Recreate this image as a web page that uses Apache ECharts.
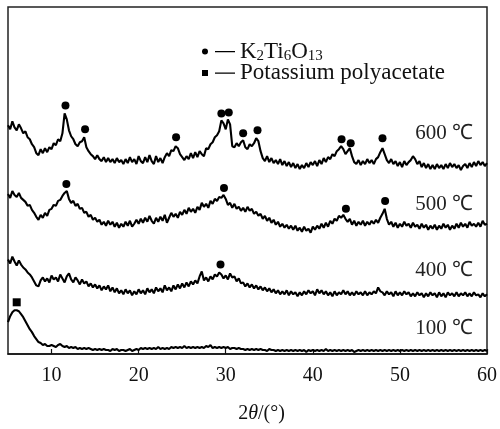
<!DOCTYPE html>
<html>
<head>
<meta charset="utf-8">
<script src="https://cdn.jsdelivr.net/npm/echarts@6/dist/echarts.min.js"></script>
<style>
html,body{margin:0;padding:0;background:#fff;}
#chart{width:500px;height:429px;}
</style>
</head>
<body>
<div id="chart"></div>
<script>
// 2θ positions (degrees), one row per degree
const twoTheta = [
  5,5.25,5.5,5.75, 6,6.25,6.5,6.75, 7,7.25,7.5,7.75, 8,8.25,8.5,8.75, 9,9.25,9.5,9.75,
  10,10.25,10.5,10.75, 11,11.25,11.5,11.75, 12,12.25,12.5,12.75, 13,13.25,13.5,13.75, 14,14.25,14.5,14.75,
  15,15.25,15.5,15.75, 16,16.25,16.5,16.75, 17,17.25,17.5,17.75, 18,18.25,18.5,18.75, 19,19.25,19.5,19.75,
  20,20.25,20.5,20.75, 21,21.25,21.5,21.75, 22,22.25,22.5,22.75, 23,23.25,23.5,23.75, 24,24.25,24.5,24.75,
  25,25.25,25.5,25.75, 26,26.25,26.5,26.75, 27,27.25,27.5,27.75, 28,28.25,28.5,28.75, 29,29.25,29.5,29.75,
  30,30.25,30.5,30.75, 31,31.25,31.5,31.75, 32,32.25,32.5,32.75, 33,33.25,33.5,33.75, 34,34.25,34.5,34.75,
  35,35.25,35.5,35.75, 36,36.25,36.5,36.75, 37,37.25,37.5,37.75, 38,38.25,38.5,38.75, 39,39.25,39.5,39.75,
  40,40.25,40.5,40.75, 41,41.25,41.5,41.75, 42,42.25,42.5,42.75, 43,43.25,43.5,43.75, 44,44.25,44.5,44.75,
  45,45.25,45.5,45.75, 46,46.25,46.5,46.75, 47,47.25,47.5,47.75, 48,48.25,48.5,48.75, 49,49.25,49.5,49.75,
  50,50.25,50.5,50.75, 51,51.25,51.5,51.75, 52,52.25,52.5,52.75, 53,53.25,53.5,53.75, 54,54.25,54.5,54.75,
  55,55.25,55.5,55.75, 56,56.25,56.5,56.75, 57,57.25,57.5,57.75, 58,58.25,58.5,58.75, 59,59.25,59.5,59.75,
  60
];
// Intensities (vertically offset, arbitrary units)
const i600 = [
  230,226,234,228, 225,231,227,222, 224,218,216,211, 208,202,200,206, 202,207,203,208,
  206,212,210,216, 214,222,242,236, 225,219,216,211, 209,213,214,218, 208,204,201,199,
  196,200,196,194, 198,193,197,193, 196,192,197,193, 195,191,196,192, 198,193,196,191,
  199,194,192,198, 193,200,194,191, 199,193,197,192, 198,202,199,205, 204,209,207,201,
  198,195,199,196, 202,197,203,198, 204,201,199,207, 206,211,213,218, 220,224,235,232,
  226,236,231,209, 208,212,209,213, 215,208,206,211, 209,212,217,214, 204,197,194,199,
  193,197,192,195, 191,196,190,194, 189,193,188,192, 187,191,186,190, 187,192,188,193,
  190,194,189,195, 191,197,193,198, 196,201,199,204, 206,209,206,201, 204,207,199,193,
  191,195,190,194, 191,196,192,195, 191,196,198,203, 207,201,195,192, 196,191,194,189,
  193,188,194,190, 193,195,199,196, 191,194,188,192, 187,191,186,190, 186,191,187,190,
  186,191,187,192, 188,191,187,190, 185,189,191,187, 192,188,193,189, 194,190,193,189,
  192
];
const i500 = [
  161,157,164,160, 158,162,157,155, 153,149,150,145, 142,138,135,140, 137,142,139,145,
  146,150,149,154, 155,159,162,164, 156,152,154,149, 151,146,147,142, 143,138,140,135,
  137,133,135,130, 133,129,134,130, 133,128,132,127, 131,128,133,129, 134,128,131,135,
  131,136,132,137, 133,139,134,131, 137,133,138,134, 140,132,137,142, 138,141,137,143,
  140,145,141,147, 143,146,142,148, 145,152,148,151, 147,154,151,156, 154,158,157,160,
  156,150,152,147, 151,146,148,144, 147,143,148,144, 146,141,143,139, 141,136,139,134,
  137,132,135,130, 133,128,131,127, 130,126,129,125, 129,124,127,123, 128,124,126,122,
  128,125,129,126, 131,127,132,128, 134,131,136,134, 139,137,140,136, 133,136,130,134,
  129,133,130,134, 129,133,130,134, 131,135,132,137, 141,146,136,130, 133,128,132,127,
  131,128,133,129, 131,127,132,128, 130,126,131,127, 130,125,129,126, 130,125,129,126,
  131,127,130,125, 129,126,131,127, 132,128,131,127, 133,129,131,128, 132,128,134,130,
  131
];
const i400 = [
  95,91,98,93, 89,94,90,87, 85,82,80,77, 73,69,68,74, 77,73,76,72,
  79,75,77,73, 80,76,72,78, 81,75,72,77, 74,70,75,71, 73,68,71,67,
  70,66,69,64, 68,65,69,63, 67,62,66,61, 64,60,65,61, 64,59,63,60,
  65,61,64,60, 66,62,65,61, 67,63,66,62, 69,64,67,63, 69,65,70,66,
  71,67,72,68, 73,70,74,71, 78,83,74,77, 73,78,75,80, 78,82,80,76,
  79,75,81,77, 78,73,76,71, 72,68,71,67, 70,66,69,65, 68,64,67,63,
  66,62,65,61, 64,60,63,60, 64,59,63,60, 62,58,62,59, 63,60,64,61,
  63,59,65,61, 64,60,63,59, 62,58,63,59, 62,60,64,60, 63,59,62,59,
  63,60,62,59, 63,59,62,60, 63,61,67,63, 62,59,63,60, 62,58,63,59,
  62,59,63,60, 62,58,61,58, 62,59,61,57, 61,58,62,59, 61,57,62,58,
  61,57,62,59, 61,58,62,58, 61,59,62,58, 61,58,62,59, 60,57,61,58,
  60
];
const i100 = [
  32,38,42,44, 44,43,40,37, 33,29,25,22, 18,15,12,11, 9,10,8,8,
  9,8,7,9, 10,8,7,8, 6,7,6,7, 5,6,5,6, 5,6,5,4,
  5,4,5,4, 5,4,4,3, 5,4,5,3, 4,4,3,4, 5,3,4,5,
  4,6,5,6, 5,6,5,6, 5,7,5,6, 5,6,5,7, 6,7,6,7,
  6,8,6,7, 6,7,6,7, 6,7,6,8, 7,9,6,7, 6,7,6,7,
  6,7,5,6, 6,5,6,5, 5,4,5,4, 5,4,5,4, 5,4,4,3,
  5,4,4,3, 4,3,4,3, 4,3,4,3, 4,3,4,3, 4,2,4,3,
  4,3,4,3, 4,3,5,3, 4,3,4,3, 4,3,4,3, 4,3,4,2,
  3,4,3,4, 3,4,3,4, 3,4,3,4, 3,4,3,4, 3,4,3,4,
  3,4,3,4, 3,4,3,4, 3,4,3,4, 3,4,3,4, 3,4,3,4,
  3,4,3,4, 3,4,3,4, 3,4,3,4, 3,4,3,4, 3,4,3,4,
  3
];
// Peak markers [2θ, intensity]
const k2ti6o13Peaks = [
  [11.6,250],[13.85,226],[24.3,218],[29.5,242],[30.35,243],[32.0,222],[33.65,225],[43.3,216],[44.35,212],[48.0,217],
  [11.7,171],[29.8,167],[43.8,146],[48.3,154],
  [29.4,90]
];
const polyacetatePeaks = [[6.0,52]];
const tempLabels = ['600 ℃','500 ℃','400 ℃','100 ℃'];
const xTicks = [10,20,30,40,50,60];
const seriesNames = ['K2Ti6O13','Potassium polyacetate'];

const FONT = '"Liberation Serif","Times New Roman",serif';
const pair = arr => twoTheta.map((t,i)=>[t,arr[i]]);
const traces = [i600,i500,i400,i100];
const labelY = [135,206,272,330];

const chart = echarts.init(document.getElementById('chart'), null, {renderer:'canvas'});
const lineSeries = traces.map((d,k)=>({
  type:'line', name:'trace'+k, data:pair(d), symbol:'none', silent:true,
  lineStyle:{color:'#000',width:2.1}, z:2
}));
chart.setOption({
  animation:false,
  backgroundColor:'#fff',
  grid:{left:8,right:13,top:7,bottom:73,show:true,borderColor:'#222',borderWidth:1.5},
  legend:{
    orient:'vertical', left:197, top:35, itemGap:-2,
    data:[
      {name:seriesNames[0], icon:'path://M0,3a3,3 0 1,0 6,0a3,3 0 1,0 -6,0zM13,2.4h20v1.3h-20z'},
      {name:seriesNames[1], icon:'path://M0,0h6v6h-6zM13,2.4h20v1.3h-20z'}
    ],
    itemWidth:33, itemHeight:6, selectedMode:false,
    formatter: n => n===seriesNames[0] ? '{m|K}{s|2}{m|Ti}{s|6}{m|O}{s|13}' : '{m|'+n+'}',
    textStyle:{
      fontFamily:FONT, fontSize:23, color:'#111',
      rich:{
        m:{fontFamily:FONT,fontSize:23,color:'#111',lineHeight:24},
        s:{fontFamily:FONT,fontSize:15,color:'#111',lineHeight:14,verticalAlign:'bottom'}
      }
    }
  },
  xAxis:{
    type:'value', min:5, max:60,
    name:'2{i|θ}/(°)', nameLocation:'middle', nameGap:50,
    nameTextStyle:{fontFamily:FONT,fontSize:20,color:'#111',padding:[0,0,0,28],
      rich:{i:{fontFamily:FONT,fontSize:20,fontStyle:'italic',color:'#111'}}},
    axisLine:{show:true,lineStyle:{color:'#111',width:1.5}},
    axisTick:{show:true,inside:true,length:5,customValues:xTicks,lineStyle:{color:'#111',width:1.2}},
    axisLabel:{customValues:xTicks,margin:12,fontFamily:FONT,fontSize:20,color:'#111'},
    splitLine:{show:false}
  },
  yAxis:{type:'value',min:0,max:349,show:false},
  series:[
    ...lineSeries,
    {type:'scatter',name:seriesNames[0],data:k2ti6o13Peaks,symbol:'circle',symbolSize:8,itemStyle:{color:'#000',opacity:1},z:3},
    {type:'scatter',name:seriesNames[1],data:polyacetatePeaks,symbol:'rect',symbolSize:8,itemStyle:{color:'#000',opacity:1},z:3}
  ],
  graphic: tempLabels.map((t,k)=>({
    type:'text', right:27, top:labelY[k]-12,
    style:{text:t, font:'21px '+FONT, fill:'#222'}
  }))
});
</script>
</body>
</html>
